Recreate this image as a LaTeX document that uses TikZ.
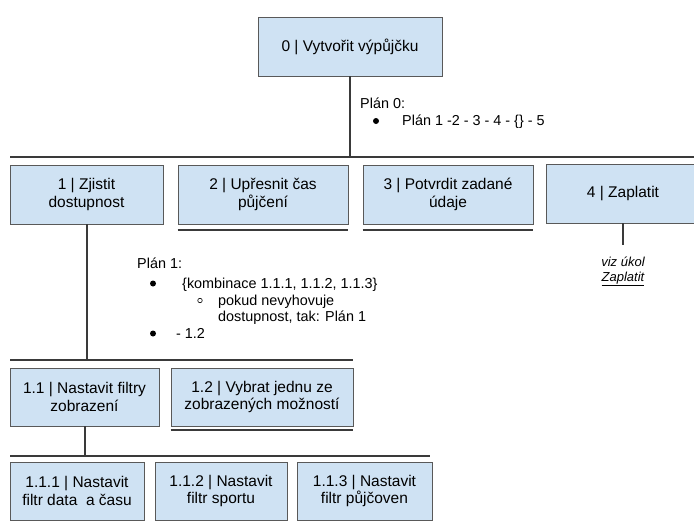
\documentclass[tikz,border=0pt]{standalone}
\usepackage{fontspec}
\setmainfont{Liberation Sans}
\definecolor{boxfill}{HTML}{CFE2F3}
\definecolor{boxline}{HTML}{595959}
\definecolor{barline}{HTML}{3A3A3A}
\begin{document}
\begin{tikzpicture}[x=1pt,y=-1pt,
  task/.style={draw=boxline, fill=boxfill, line width=0.9pt, inner sep=0pt,
    align=center, font=\fontsize{15.5}{17.5}\selectfont},
  bar/.style={draw=barline, line width=2pt},
  link/.style={draw=barline, line width=2pt},
  plantext/.style={anchor=base west, inner sep=0pt, font=\fontsize{14.4}{17}\selectfont},
  dot/.style={fill=black, circle, inner sep=0pt, minimum size=6pt},
  subdot/.style={draw=black, line width=0.6pt, circle, inner sep=0pt, minimum size=4.5pt},
]
\useasboundingbox (0,0) rectangle (694,523);
\fill[white] (0,0) rectangle (694,523);

% level 0
\node[task, minimum width=184, minimum height=59] (t0) at (350,46.5) {0 | Vytvořit výpůjčku};

% level 1
\node[task, minimum width=153, minimum height=59] (t1) at (86.5,194.5) {1 | Zjistit\\dostupnost};
\node[task, minimum width=170, minimum height=59] (t2) at (263,194.5) {2 | Upřesnit čas\\půjčení};
\node[task, minimum width=170, minimum height=59] (t3) at (448,194.5) {3 | Potvrdit zadané\\údaje};
\node[task, minimum width=154, minimum height=59] (t4) at (623,193.5) {4 | Zaplatit};

% level 1.x
\node[task, minimum width=149, minimum height=58] (t11) at (84.5,397) {1.1 | Nastavit filtry\\zobrazení};
\node[task, minimum width=182, minimum height=58] (t12) at (262,397) {1.2 | Vybrat jednu ze\\zobrazených možností};

% level 1.1.x
\node[task, minimum width=134, minimum height=58] (t111) at (77,491) {1.1.1 | Nastavit\\filtr data\ \ a času};
\node[task, minimum width=132, minimum height=58] (t112) at (221,491) {1.1.2 | Nastavit\\filtr sportu};
\node[task, minimum width=135, minimum height=58] (t113) at (364.5,491) {1.1.3 | Nastavit\\filtr půjčoven};

% horizontal bars
\coordinate (bar0l) at (10,157);
\coordinate (bar0r) at (694,157);
\coordinate (bar1l) at (10,360);
\coordinate (bar1r) at (353,360);
\coordinate (bar2l) at (10,456);
\coordinate (bar2r) at (430,456);
\draw[bar] (bar0l) -- (bar0r);
\draw[bar] (bar1l) -- (bar1r);
\draw[bar] (bar2l) -- (bar2r);

% connectors down to the bars
\draw[link] (t0.south) -- (t0.south |- bar0l);
\draw[link] (t1.south) -- (t1.south |- bar1l);
\draw[link] (t11.south) -- (t11.south |- bar2l);

% underlines of elementary tasks
\draw[bar] ([yshift=-6pt]t2.south west) -- ([yshift=-6pt]t2.south east);
\draw[bar] ([yshift=-6pt]t3.south west) -- ([yshift=-6pt]t3.south east);
\draw[bar] ([yshift=-4pt]t12.south west) -- ([yshift=-4pt]t12.south east);

% reference to another task
\coordinate (ref4) at (623,245);
\draw[link] (t4.south) -- (ref4);
\node[anchor=base, inner sep=0pt, font=\fontsize{13}{15}\selectfont\itshape] (viz) at (623,266) {viz úkol};
\node[anchor=base, inner sep=0pt, font=\fontsize{13}{15}\selectfont\itshape] (vizname) at (623,281) {\underline{Zaplatit}};

% plan 0
\node[plantext] (p0) at (360,108) {Plán 0:};
\node[dot] (p0b) at (376,121) {};
\node[plantext] (p0a) at (402,125.5) {Plán 1 -2 - 3 - 4 - \{\} - 5};

% plan 1
\node[plantext] (p1) at (137,268.5) {Plán 1:};
\node[dot] (p1b1) at (153,283.5) {};
\node[plantext] (p1a) at (182,288) {\{kombinace 1.1.1, 1.1.2, 1.1.3\}};
\node[subdot] (p1s) at (200,300.5) {};
\node[plantext] (p1c) at (218,305) {pokud nevyhovuje};
\node[plantext] (p1d) at (218,321.5) {dostupnost, tak: Plán 1};
\node[dot] (p1b2) at (153,333.5) {};
\node[plantext] (p1e) at (176,338) {- 1.2};
\end{tikzpicture}
\end{document}
